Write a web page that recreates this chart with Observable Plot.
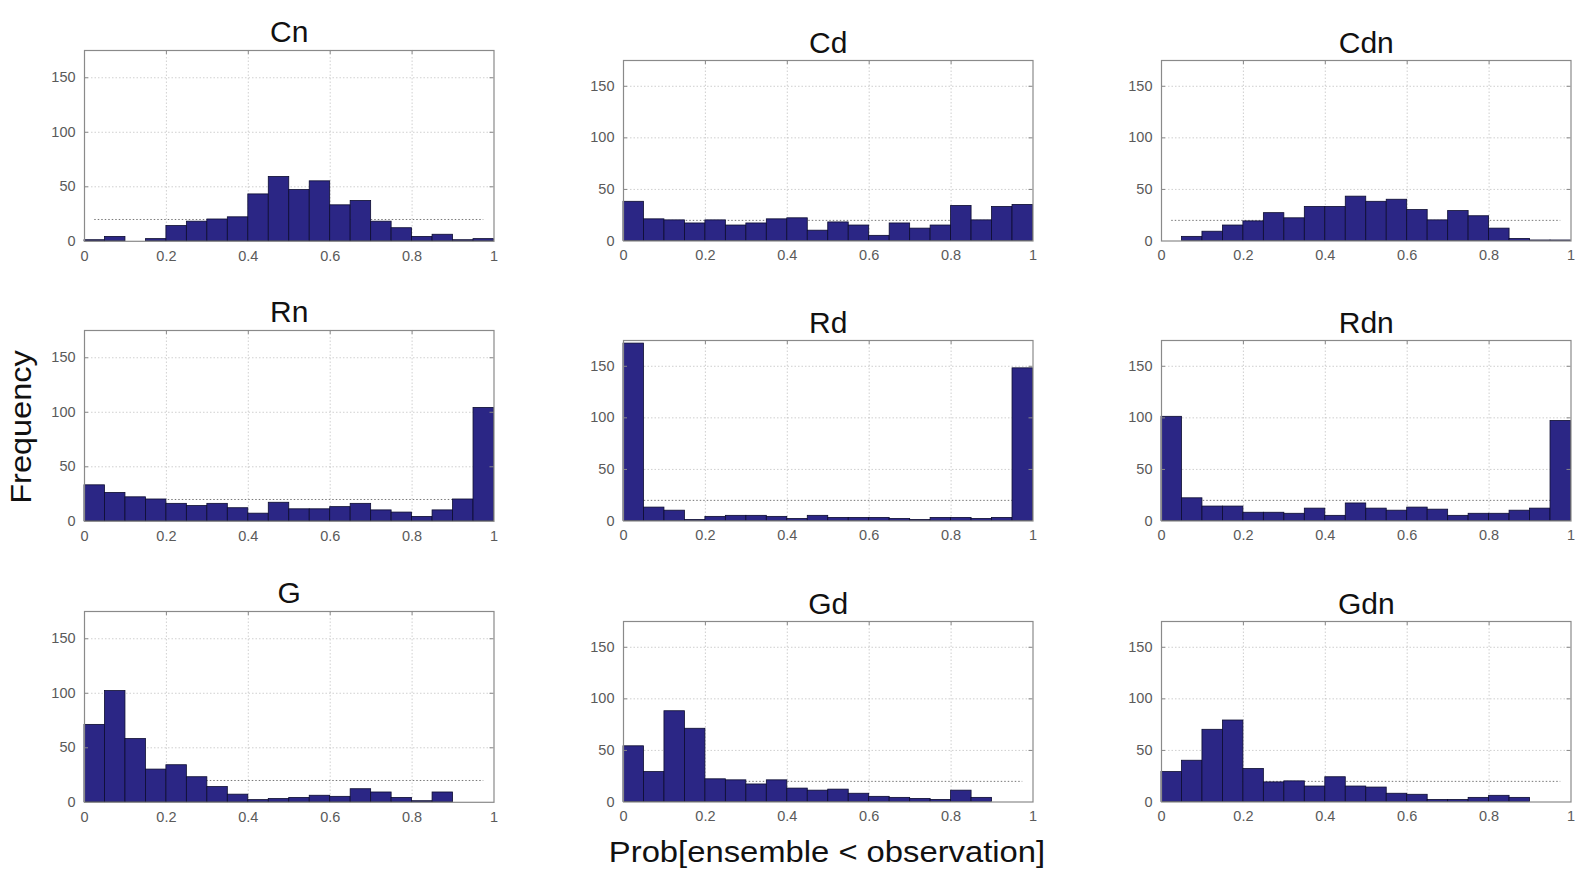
<!DOCTYPE html>
<html>
<head>
<meta charset="utf-8">
<script src="https://cdn.jsdelivr.net/npm/d3@7"></script>
<script src="https://cdn.jsdelivr.net/npm/@observablehq/plot@0.6"></script>
<style>
  html, body { margin: 0; padding: 0; background: #fff; }
  #wrap { position: relative; width: 1585px; height: 875px; overflow: hidden; font-family: "Liberation Sans", Arial, sans-serif; }
  .panel { position: absolute; }
  .lbl { position: absolute; color: #111; font-family: "Liberation Sans", Arial, sans-serif; white-space: nowrap; line-height: 1; }
</style>
</head>
<body>
<div id="wrap"></div>
<script>
// ---- data ----
const panelNames = ["Cn", "Cd", "Cdn", "Rn", "Rd", "Rdn", "G", "Gd", "Gdn"];
const binLo = [0, 0.05, 0.1, 0.15, 0.2, 0.25, 0.3, 0.35, 0.4, 0.45, 0.5, 0.55, 0.6, 0.65, 0.7, 0.75, 0.8, 0.85, 0.9, 0.95];
const binHi = [0.05, 0.1, 0.15, 0.2, 0.25, 0.3, 0.35, 0.4, 0.45, 0.5, 0.55, 0.6, 0.65, 0.7, 0.75, 0.8, 0.85, 0.9, 0.95, 1];
const Cn  = [1, 4, 0, 2, 14, 18, 20, 22, 43, 59, 47, 55, 33, 37, 18, 12, 4, 6, 1, 2];
const Cd  = [38, 21, 20, 17, 20, 15, 17, 21, 22, 10, 18, 15, 5, 17, 12, 15, 34, 20, 33, 35];
const Cdn = [0, 4, 9, 15, 19, 27, 22, 33, 33, 43, 38, 40, 30, 20, 29, 24, 12, 2, 0.5, 0.5];
const Rn  = [33, 26, 22, 20, 16, 14, 16, 12, 7, 17, 11, 11, 13, 16, 10, 8, 4, 10, 20, 104];
const Rd  = [172, 13, 10, 1, 4, 5, 5, 4, 2, 5, 3, 3, 3, 2, 1, 3, 3, 2, 3, 148];
const Rdn = [101, 22, 14, 14, 8, 8, 7, 12, 5, 17, 12, 10, 13, 11, 5, 7, 7, 10, 12, 97];
const G   = [71, 102, 58, 30, 34, 23, 14, 7, 2, 3, 4, 6, 5, 12, 9, 4, 1, 9, 0, 0];
const Gd  = [54, 29, 88, 71, 22, 21, 17, 21, 13, 11, 12, 8, 5, 4, 3, 2, 11, 4, 0, 0];
const Gdn = [29, 40, 70, 79, 32, 19, 20, 15, 24, 15, 14, 8, 7, 2, 2, 4, 6, 4, 0, 0];
const series = [Cn, Cd, Cdn, Rn, Rd, Rdn, G, Gd, Gdn];
const refLevel = [20];          // expected frequency (dotted line)
const refSpan = [0.025, 0.975]; // first and last bin centres
const xTicks = [0, 0.2, 0.4, 0.6, 0.8, 1];
const xGrid = [0.2, 0.4, 0.6, 0.8];
const yTicks = [0, 50, 100, 150];
const yGrid = [50, 100, 150];
const yMax = 175;
const xLabel = "Prob[ensemble < observation]";
const yLabel = "Frequency";

// ---- layout ----
const colLeft = [83.5, 622.7, 1161];
const axesW = 409.5;
const rowBottom = [240.5, 520.7, 801.7];
const axesHLeft = 190.8;
const axesHOther = 180.5;
const mL = 50, mR = 12, mT = 44, mB = 30;

const wrap = document.getElementById("wrap");

panelNames.forEach((name, i) => {
  const col = i % 3, row = Math.floor(i / 3);
  const h = col === 0 ? axesHLeft : axesHOther;
  const data = series[i].map((v, k) => ({lo: binLo[k], hi: binHi[k], n: v}));
  const tickLenY = 4 * yMax / h;      // ~4px inner tick, in data units
  const tickLenX = 4 / axesW;
  const chart = Plot.plot({
    width: axesW + mL + mR,
    height: h + mT + mB,
    marginLeft: mL, marginRight: mR, marginTop: mT, marginBottom: mB,
    style: {fontFamily: "'Liberation Sans', Arial, sans-serif", fontSize: "14.5px", color: "#555", background: "transparent", overflow: "visible"},
    x: {type: "linear", domain: [0, 1]},
    y: {type: "linear", domain: [0, yMax]},
    marks: [
      Plot.gridX(xGrid, {stroke: "#a0a0a0", strokeOpacity: 0.5, strokeDasharray: "1.5,2"}),
      Plot.gridY(yGrid, {stroke: "#a0a0a0", strokeOpacity: 0.5, strokeDasharray: "1.5,2"}),
      Plot.ruleY(refLevel, {x1: refSpan[0], x2: refSpan[1], stroke: "#777", strokeDasharray: "1.5,2", strokeWidth: 1}),
      Plot.rectY(data, {x1: "lo", x2: "hi", y: "n", fill: "#2b2685", stroke: "#0c0c30", strokeWidth: 0.8, inset: 0}),
      Plot.ruleX(xGrid, {y1: yMax - tickLenY, y2: yMax, stroke: "#888"}),
      Plot.ruleY(yGrid, {x1: 0, x2: tickLenX, stroke: "#888"}),
      Plot.ruleY(yGrid, {x1: 1 - tickLenX, x2: 1, stroke: "#888"}),
      Plot.frame({stroke: "#8a8a8a", strokeWidth: 1.2}),
      Plot.axisX({ticks: xTicks, tickFormat: d => String(d), tickSize: 0, tickPadding: 9, label: null, fill: "#5a5a5a"}),
      Plot.axisY({ticks: yTicks, tickFormat: d => String(d), tickSize: 0, tickPadding: 9, label: null, fill: "#5a5a5a"}),
      Plot.text([name], {frameAnchor: "top", dy: -8, lineAnchor: "bottom", fontSize: 30, fill: "#111", text: d => d})
    ]
  });
  const div = document.createElement("div");
  div.className = "panel";
  div.style.left = (colLeft[col] - mL) + "px";
  div.style.top = (rowBottom[row] - h - mT) + "px";
  div.appendChild(chart);
  wrap.appendChild(div);
});

// shared axis labels
const xl = document.createElement("div");
xl.className = "lbl";
xl.textContent = xLabel;
xl.style.fontSize = "29px";
xl.style.left = (colLeft[1] + axesW / 2) + "px";
xl.style.top = "838px";
xl.style.transform = "translateX(-50%) scaleX(1.13)";
wrap.appendChild(xl);

const yl = document.createElement("div");
yl.className = "lbl";
yl.textContent = yLabel;
yl.style.fontSize = "29px";
yl.style.left = "21px";
yl.style.top = "427px";
yl.style.transform = "translate(-50%, -50%) rotate(-90deg) scaleX(1.12)";
wrap.appendChild(yl);
</script>
</body>
</html>
